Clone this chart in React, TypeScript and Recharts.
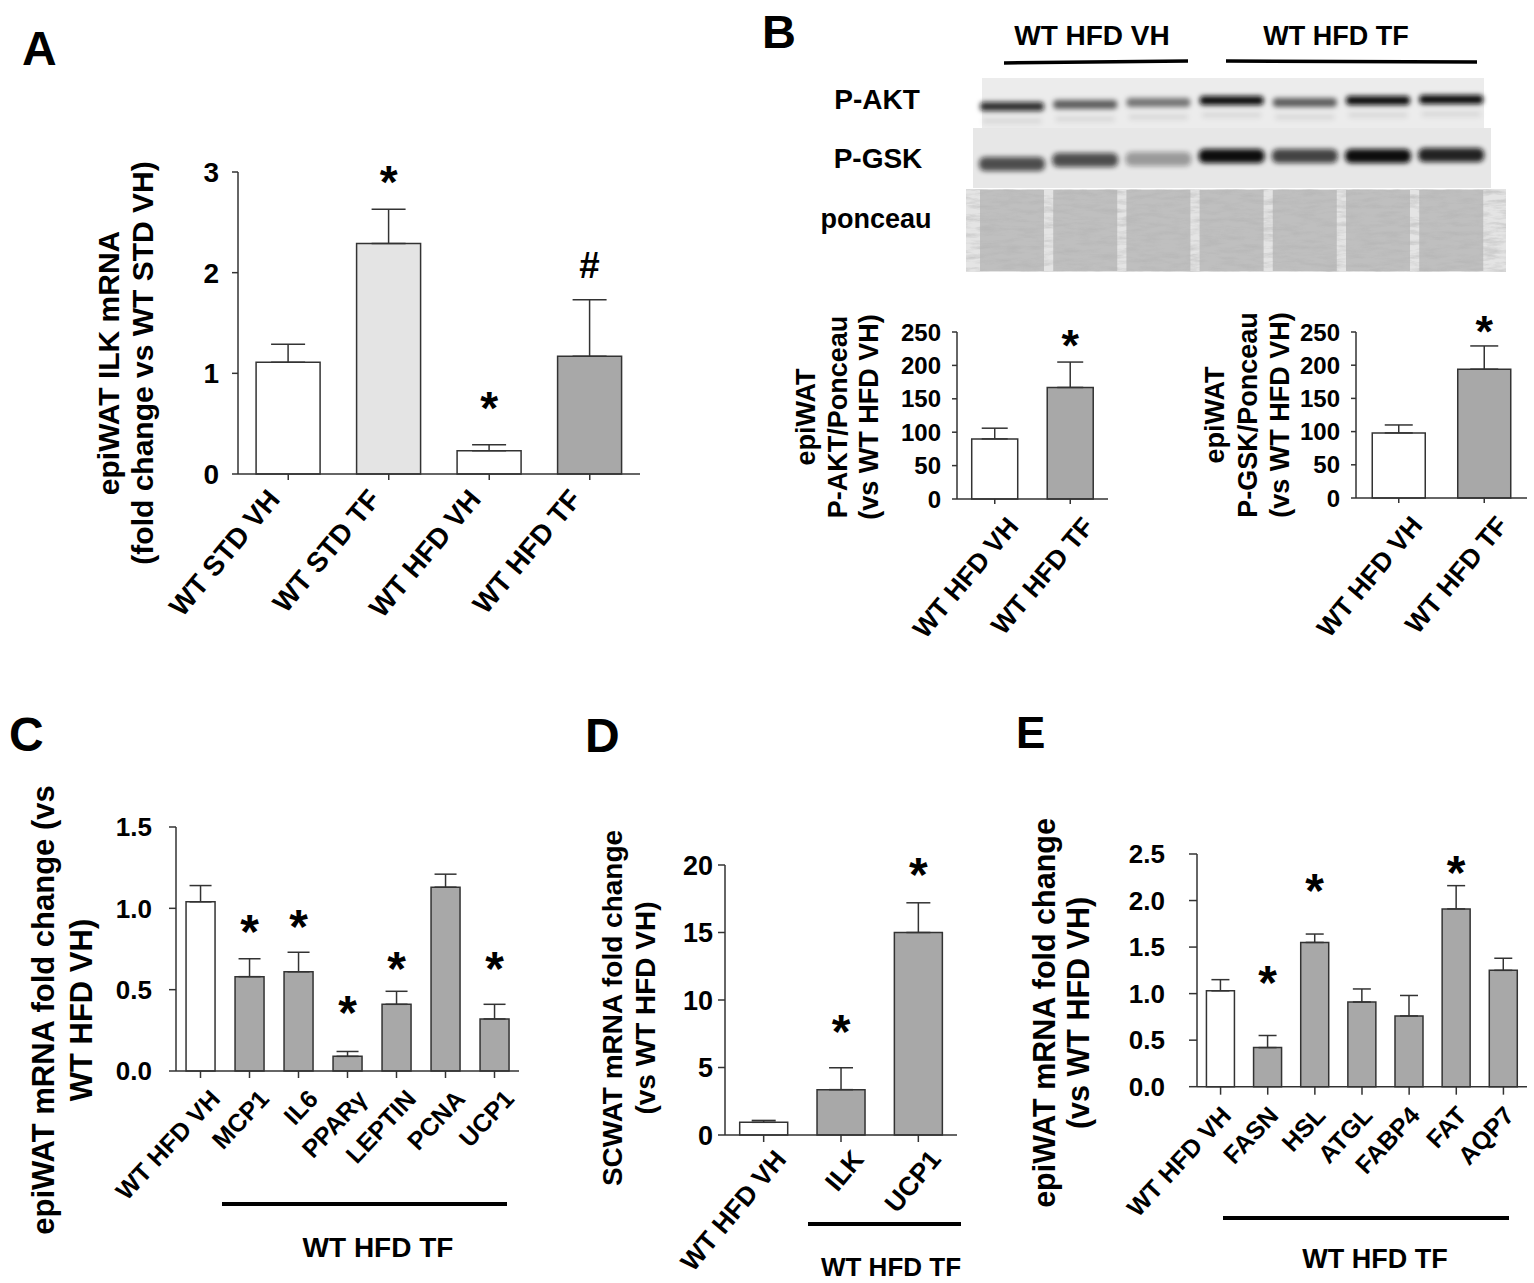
import React from 'react';
import { ComposedChart, Bar, XAxis, YAxis, ErrorBar, LabelList, Cell } from 'recharts';

const FONT = "'Liberation Sans', Arial, Helvetica, sans-serif";
const INK = '#333333';
const WHITE = '#ffffff';
const LIGHT = '#e4e4e4';
const GREY = '#a8a8a8';

// Panel A
const catsA = ['WT STD VH', 'WT STD TF', 'WT HFD VH', 'WT HFD TF'];
const meanA = [1.11, 2.29, 0.23, 1.17];
const semA = [0.18, 0.34, 0.06, 0.56];
const fillA = [WHITE, LIGHT, WHITE, GREY];
const markA = ['', '*', '*', '#'];
const markAtA = [0, 3.01, 0.76, 2.08];
const ticksA = [0, 1, 2, 3];

// Panel B (densitometry)
const catsB = ['WT HFD VH', 'WT HFD TF'];
const fillB = [WHITE, GREY];
const markB = ['', '*'];
const meanAkt = [90, 167];
const semAkt = [16, 38];
const markAtAkt = [0, 245];
const meanGsk = [98, 194];
const semGsk = [12, 35];
const markAtGsk = [0, 266];
const ticksB = [0, 50, 100, 150, 200, 250];

// Panel B blot lanes (relative band intensity)
const aktLevel = [0.85, 0.6, 0.5, 1.0, 0.6, 1.0, 1.0];
const aktRow = [106, 104, 102, 100, 102, 100, 99];
const gskLevel = [0.7, 0.7, 0.35, 1.0, 0.75, 1.0, 0.9];
const gskRow = [164, 160, 159, 156, 156, 156, 155];

// Panel C
const catsC = ['WT HFD VH', 'MCP1', 'IL6', 'PPARγ', 'LEPTIN', 'PCNA', 'UCP1'];
const meanC = [1.04, 0.58, 0.61, 0.09, 0.41, 1.13, 0.32];
const semC = [0.1, 0.11, 0.12, 0.03, 0.08, 0.08, 0.09];
const fillC = [WHITE, GREY, GREY, GREY, GREY, GREY, GREY];
const markC = ['', '*', '*', '*', '*', '', '*'];
const markAtC = [0, 0.93, 0.96, 0.43, 0.7, 0, 0.7];
const ticksC = [0, 0.5, 1, 1.5];

// Panel D
const catsD = ['WT HFD VH', 'ILK', 'UCP1'];
const meanD = [0.94, 3.36, 15.0];
const semD = [0.14, 1.62, 2.2];
const fillD = [WHITE, GREY, GREY];
const markD = ['', '*', '*'];
const markAtD = [0, 8.5, 20.1];
const ticksD = [0, 5, 10, 15, 20];

// Panel E
const catsE = ['WT HFD VH', 'FASN', 'HSL', 'ATGL', 'FABP4', 'FAT', 'AQP7'];
const meanE = [1.03, 0.42, 1.55, 0.91, 0.76, 1.91, 1.25];
const semE = [0.12, 0.13, 0.09, 0.14, 0.22, 0.25, 0.13];
const fillE = [WHITE, GREY, GREY, GREY, GREY, GREY, GREY];
const markE = ['', '*', '*', '', '', '*', ''];
const markAtE = [0, 1.24, 2.23, 0, 0, 2.42, 0];
const ticksE = [0, 0.5, 1, 1.5, 2, 2.5];

const YW = 120;
const MT = 70;
const MR = 10;
const XH = 200;

const BarPanel = ({ cats, mean, sem, fill, mark, markAt, ticks, fmt, box, cfg }: any) => {
  const data = cats.map((c: string, i: number) => ({ name: c, mean: mean[i], err: [0, sem[i]], mark: mark[i] }));
  const W = YW + (box.x1 - box.x0) + MR;
  const H = MT + (box.yBot - box.yTop) + XH;
  const axisStyle = { stroke: INK, strokeWidth: 1.5 };

  const xTick = (p: any) => (
    <g transform={`translate(${p.x + cfg.dx},${p.y + cfg.dy})`}>
      <text textAnchor="end" transform={`rotate(${cfg.angle})`} fontSize={cfg.xFont} fontWeight="bold" fontFamily={FONT} fill="#000">
        {p.payload.value}
      </text>
    </g>
  );

  const markLabel = (p: any) => {
    const i = p.index;
    const m = mark[i];
    if (!m) return null;
    const base = p.y + p.height;
    const ppu = p.height / mean[i];
    const cy = base - markAt[i] * ppu;
    const fs = m === '#' ? cfg.markFont * 0.8 : cfg.markFont;
    const off = m === '#' ? 0.36 : 0.58;
    return (
      <text key={`m${i}`} x={p.x + p.width / 2} y={cy + off * fs} textAnchor="middle" fontSize={fs} fontWeight="bold" fontFamily={FONT} fill="#000">
        {m}
      </text>
    );
  };

  return (
    <div style={{ position: 'absolute', left: box.x0 - YW, top: box.yTop - MT }}>
      <ComposedChart width={W} height={H} data={data} margin={{ top: MT, right: MR, left: 0, bottom: 0 }} barCategoryGap={cfg.gap}>
        <XAxis dataKey="name" type="category" height={XH} interval={0} tick={xTick} tickSize={cfg.tickSize} tickMargin={2} axisLine={axisStyle} tickLine={axisStyle} />
        <YAxis
          width={YW}
          type="number"
          domain={[0, ticks[ticks.length - 1]]}
          ticks={ticks}
          interval={0}
          tickFormatter={fmt}
          tickSize={cfg.tickSize}
          tickMargin={cfg.tickMargin}
          tick={{ fontSize: cfg.yFont, fontWeight: 'bold', fill: '#000', fontFamily: FONT }}
          axisLine={axisStyle}
          tickLine={axisStyle}
        />
        <Bar dataKey="mean" isAnimationActive={false} stroke={INK} strokeWidth={1.5}>
          {data.map((d: any, i: number) => (
            <Cell key={i} fill={fill[i]} />
          ))}
          <ErrorBar dataKey="err" direction="y" width={cfg.cap} stroke={INK} strokeWidth={1.5} isAnimationActive={false} />
          <LabelList dataKey="mark" content={markLabel} />
        </Bar>
      </ComposedChart>
    </div>
  );
};

const T = ({ x, y, size, children, anchor = 'start' }: any) => (
  <text x={x} y={y} fontSize={size} fontWeight="bold" fontFamily={FONT} fill="#000" textAnchor={anchor}>
    {children}
  </text>
);

const VT = ({ cx, cy, size, children }: any) => (
  <text transform={`translate(${cx},${cy}) rotate(-90)`} dy="0.35em" fontSize={size} fontWeight="bold" fontFamily={FONT} fill="#000" textAnchor="middle">
    {children}
  </text>
);

const laneX = (i: number) => 1012 + i * 73.2;

const Blot = () => (
  <g>
    <defs>
      <filter id="blur3" x="-50%" y="-100%" width="200%" height="300%">
        <feGaussianBlur stdDeviation="2.4" />
      </filter>
      <filter id="grain" x="0" y="0" width="100%" height="100%">
        <feTurbulence type="fractalNoise" baseFrequency="0.05 0.22" numOctaves="4" seed="11" />
        <feColorMatrix type="matrix" values="0 0 0 0 0.45  0 0 0 0 0.45  0 0 0 0 0.45  2.2 0 0 0 -0.85" />
      </filter>
      <clipPath id="ponc">
        <rect x={966} y={189} width={540} height={83} />
      </clipPath>
    </defs>
    <rect x={982} y={78} width={502} height={50} fill="#ececec" />
    <rect x={973} y={128} width={518} height={60} fill="#e7e7e7" />
    <rect x={966} y={189} width={540} height={83} fill="#e4e4e4" />
    {aktLevel.map((v, i) => (
      <g key={`a${i}`} filter="url(#blur3)">
        <rect x={laneX(i) - 32} y={aktRow[i] - 4} width={64} height={9} rx={4} fill="#0a0a0a" opacity={v} />
        <rect x={laneX(i) - 30} y={aktRow[i] + 12} width={60} height={6} rx={3} fill="#111" opacity={0.08} />
      </g>
    ))}
    {gskLevel.map((v, i) => (
      <rect key={`g${i}`} x={laneX(i) - 33} y={gskRow[i] - 7} width={66} height={14} rx={6} fill="#0a0a0a" opacity={v} filter="url(#blur3)" />
    ))}
    {aktLevel.map((_, i) => (
      <rect key={`p${i}`} x={laneX(i) - 32} y={190} width={64} height={81} fill="#b8b8b8" opacity={0.85} />
    ))}
    <g clipPath="url(#ponc)">
      <rect x={966} y={189} width={540} height={83} filter="url(#grain)" opacity={0.55} />
    </g>
  </g>
);

const App: React.FC = () => {
  const f0 = (v: number) => `${v}`;
  const f1 = (v: number) => v.toFixed(1);
  return (
    <div style={{ position: 'absolute', left: 0, top: 0, width: 1534, height: 1283, background: '#fff', fontFamily: FONT }}>
      <svg width={1534} height={1283} style={{ position: 'absolute', left: 0, top: 0 }}>
        {/* panel letters */}
        <T x={22} y={65} size={48}>A</T>
        <T x={762} y={48} size={47}>B</T>
        <T x={9} y={751} size={48}>C</T>
        <T x={585} y={752} size={48}>D</T>
        <T x={1016} y={748} size={44}>E</T>

        {/* A */}
        <VT cx={108} cy={363} size={30}>epiWAT ILK mRNA</VT>
        <VT cx={142} cy={363} size={30}>(fold change vs WT STD VH)</VT>

        {/* B blot */}
        <T x={1092} y={45} size={28} anchor="middle">WT HFD VH</T>
        <T x={1336} y={45} size={27} anchor="middle">WT HFD TF</T>
        <line x1={1004} y1={63} x2={1188} y2={61} stroke="#000" strokeWidth={3.5} />
        <line x1={1226} y1={61} x2={1477} y2={62} stroke="#000" strokeWidth={3.5} />
        <T x={877} y={109} size={28} anchor="middle">P-AKT</T>
        <T x={878} y={168} size={28} anchor="middle">P-GSK</T>
        <T x={876} y={228} size={27} anchor="middle">ponceau</T>
        <Blot />

        {/* B charts */}
        <VT cx={806} cy={417} size={27}>epiWAT</VT>
        <VT cx={838} cy={417} size={27}>P-AKT/Ponceau</VT>
        <VT cx={869} cy={417} size={27}>(vs WT HFD VH)</VT>
        <VT cx={1215} cy={415} size={27}>epiWAT</VT>
        <VT cx={1248} cy={415} size={27}>P-GSK/Ponceau</VT>
        <VT cx={1280} cy={415} size={27}>(vs WT HFD VH)</VT>

        {/* C */}
        <VT cx={43} cy={1010} size={31}>epiWAT mRNA fold change (vs</VT>
        <VT cx={81} cy={1010} size={31}>WT HFD VH)</VT>
        <line x1={222} y1={1204} x2={507} y2={1204} stroke="#000" strokeWidth={4} />
        <T x={378} y={1257} size={28} anchor="middle">WT HFD TF</T>

        {/* D */}
        <VT cx={612} cy={1008} size={28}>SCWAT  mRNA fold change</VT>
        <VT cx={645} cy={1008} size={28}>(vs WT HFD VH)</VT>
        <line x1={808} y1={1224} x2={961} y2={1224} stroke="#000" strokeWidth={4} />
        <T x={891} y={1276} size={26} anchor="middle">WT HFD TF</T>

        {/* E */}
        <VT cx={1044} cy={1013} size={30.5}>epiWAT mRNA fold change</VT>
        <VT cx={1078} cy={1013} size={30.5}>(vs WT HFD VH)</VT>
        <line x1={1223} y1={1218} x2={1509} y2={1218} stroke="#000" strokeWidth={4} />
        <T x={1375} y={1268} size={27} anchor="middle">WT HFD TF</T>
      </svg>

      <BarPanel
        cats={catsA} mean={meanA} sem={semA} fill={fillA} mark={markA} markAt={markAtA} ticks={ticksA} fmt={f0}
        box={{ x0: 238, x1: 640, yTop: 172, yBot: 474 }}
        cfg={{ tickSize: 6, tickMargin: 13, yFont: 28, xFont: 28, angle: -50, dx: -7, dy: 18, gap: '18%', cap: 17, markFont: 46 }}
      />
      <BarPanel
        cats={catsB} mean={meanAkt} sem={semAkt} fill={fillB} mark={markB} markAt={markAtAkt} ticks={ticksB} fmt={f0}
        box={{ x0: 957, x1: 1108, yTop: 332, yBot: 499 }}
        cfg={{ tickSize: 5, tickMargin: 11, yFont: 24, xFont: 26.5, angle: -50, dx: 25, dy: 21, gap: '19.5%', cap: 13, markFont: 45 }}
      />
      <BarPanel
        cats={catsB} mean={meanGsk} sem={semGsk} fill={fillB} mark={markB} markAt={markAtGsk} ticks={ticksB} fmt={f0}
        box={{ x0: 1356, x1: 1527, yTop: 332, yBot: 498 }}
        cfg={{ tickSize: 5, tickMargin: 11, yFont: 24, xFont: 26.5, angle: -50, dx: 25, dy: 21, gap: '19%', cap: 14, markFont: 45 }}
      />
      <BarPanel
        cats={catsC} mean={meanC} sem={semC} fill={fillC} mark={markC} markAt={markAtC} ticks={ticksC} fmt={f1}
        box={{ x0: 176, x1: 519, yTop: 827, yBot: 1071 }}
        cfg={{ tickSize: 7, tickMargin: 17, yFont: 26, xFont: 25, angle: -47, dx: 21, dy: 20, gap: '20.5%', cap: 11, markFont: 48 }}
      />
      <BarPanel
        cats={catsD} mean={meanD} sem={semD} fill={fillD} mark={markD} markAt={markAtD} ticks={ticksD} fmt={f0}
        box={{ x0: 725, x1: 957, yTop: 865, yBot: 1135 }}
        cfg={{ tickSize: 7, tickMargin: 5, yFont: 27, xFont: 26.5, angle: -50, dx: 24, dy: 16, gap: '19%', cap: 12, markFont: 48 }}
      />
      <BarPanel
        cats={catsE} mean={meanE} sem={semE} fill={fillE} mark={markE} markAt={markAtE} ticks={ticksE} fmt={f1}
        box={{ x0: 1197, x1: 1527, yTop: 854, yBot: 1086.7 }}
        cfg={{ tickSize: 8, tickMargin: 24, yFont: 26, xFont: 25, angle: -47, dx: 12, dy: 20, gap: '20%', cap: 9, markFont: 48 }}
      />
    </div>
  );
};

export default App;
